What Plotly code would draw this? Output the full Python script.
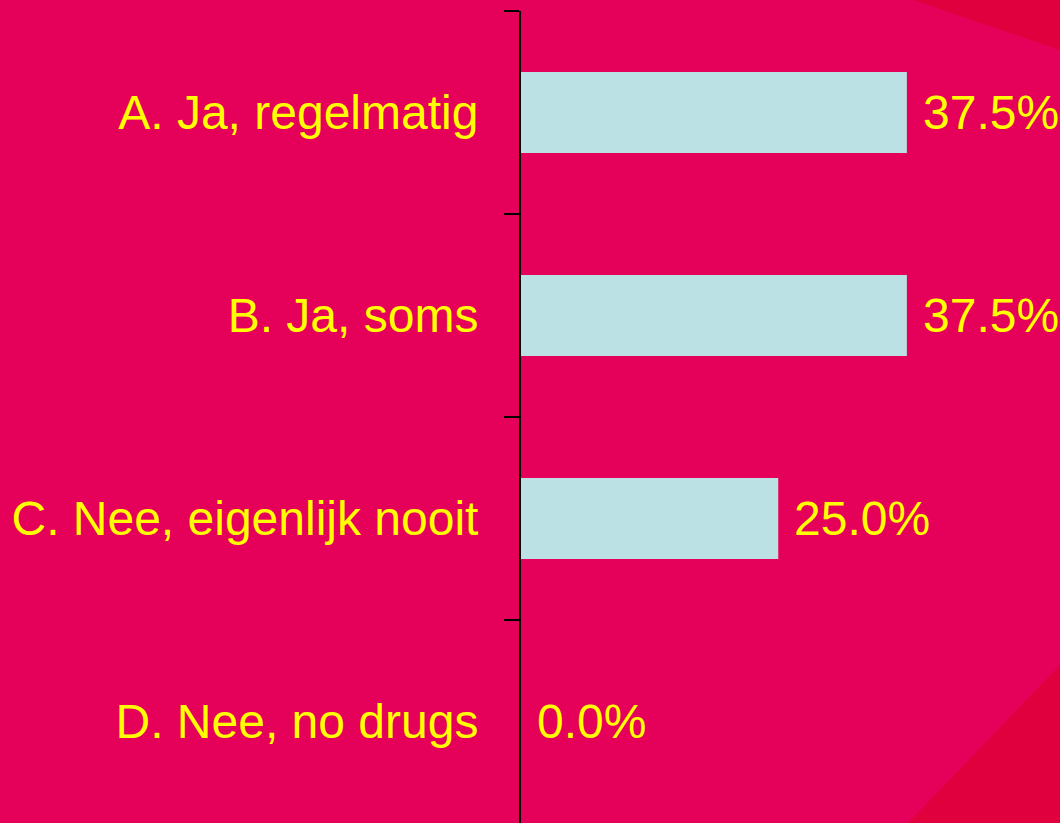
import plotly.graph_objects as go

categories = ["A. Ja, regelmatig", "B. Ja, soms", "C. Nee, eigenlijk nooit", "D. Nee, no drugs"]
percentages = [37.5, 37.5, 25.0, 0.0]
value_labels = ["37.5%", "37.5%", "25.0%", "0.0%"]

BG = "#E5005A"
DARK = "#E0003E"
BAR = "#BCE1E4"
YELLOW = "#FFFF00"
FONT = "Liberation Sans, Arial, sans-serif"

fig = go.Figure()
fig.add_trace(go.Bar(
    x=percentages, y=categories, orientation="h",
    marker=dict(color=BAR, line=dict(width=0)),
    width=0.4, hoverinfo="skip",
))

for cat, val, lab in zip(categories, percentages, value_labels):
    fig.add_annotation(x=val, y=cat, text=lab, showarrow=False,
                       xanchor="left", yanchor="middle", xshift=14,
                       font=dict(family=FONT, size=48, color=YELLOW))

# decorative darker triangles in the background
fig.add_shape(type="path", xref="paper", yref="paper", layer="below",
              path="M 0.7278 1.0136 L 1.0 1.0136 L 1.0 0.952 Z",
              fillcolor=DARK, line=dict(width=0))
fig.add_shape(type="path", xref="paper", yref="paper", layer="below",
              path="M 1.0 0.1946 L 1.0 -0.01 L 0.7037 -0.01 Z",
              fillcolor=DARK, line=dict(width=0))

fig.update_layout(
    width=1060, height=823,
    margin=dict(l=521, r=0, t=11, b=0),
    paper_bgcolor=BG, plot_bgcolor="rgba(0,0,0,0)",
    showlegend=False,
    font=dict(family=FONT, size=48, color=YELLOW),
    xaxis=dict(visible=False, range=[0, 52.38], fixedrange=True),
    yaxis=dict(
        categoryorder="array", categoryarray=categories,
        range=[3.5, -0.5],
        showline=True, linecolor="black", linewidth=2,
        ticks="outside", tickson="boundaries", ticklen=15,
        tickcolor="black", tickwidth=2,
        ticklabelstandoff=31,
        tickfont=dict(family=FONT, size=48, color=YELLOW),
        showgrid=False, zeroline=False, fixedrange=True,
    ),
)

fig.write_html(
    "out.html",
    config={"displayModeBar": False},
    post_script="document.body.style.margin='0';document.body.style.background='" + BG + "';",
)
